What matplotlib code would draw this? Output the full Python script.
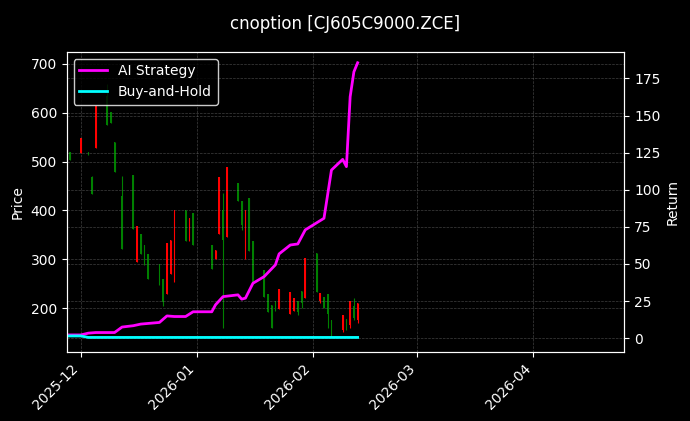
import matplotlib
matplotlib.use('Agg')
import matplotlib.pyplot as plt
import matplotlib.dates as mdates
import numpy as np
import pandas as pd

plt.style.use('dark_background')

# candles (red = up, green = down)
dates = ['2025-11-28', '2025-12-01', '2025-12-03', '2025-12-04', '2025-12-05', '2025-12-08',
         '2025-12-09', '2025-12-10', '2025-12-12', '2025-12-15', '2025-12-16', '2025-12-17',
         '2025-12-18', '2025-12-19', '2025-12-22', '2025-12-23', '2025-12-24', '2025-12-25',
         '2025-12-26', '2025-12-29', '2025-12-30', '2025-12-31', '2026-01-05', '2026-01-06',
         '2026-01-07', '2026-01-08', '2026-01-09', '2026-01-12', '2026-01-13', '2026-01-14',
         '2026-01-15', '2026-01-16', '2026-01-19', '2026-01-20', '2026-01-21', '2026-01-22',
         '2026-01-23', '2026-01-26', '2026-01-27', '2026-01-28', '2026-01-29', '2026-01-30',
         '2026-02-02', '2026-02-03', '2026-02-04', '2026-02-05', '2026-02-06', '2026-02-09',
         '2026-02-10', '2026-02-11', '2026-02-12', '2026-02-13']
opens = [520, 518, 520, 468, 528, 634, 602, 540, 430, 472, 295, 351, 330, 310, 291, 260, 228, 270,
         255, 400, 338, 395, 330, 300, 352, 400, 345, 457, 420, 300, 426, 337, 279, 229, 206, 215,
         198, 188, 195, 215, 235, 220, 312, 215, 222, 228, 175, 156, 178, 165, 205, 175]
closes = [503, 548, 513, 434, 613, 575, 580, 478, 322, 362, 368, 310, 289, 260, 248, 212, 333, 340,
          400, 337, 385, 330, 281, 320, 468, 340, 489, 420, 370, 400, 316, 254, 223, 192, 160, 200,
          240, 233, 220, 192, 210, 302, 233, 230, 200, 188, 150, 185, 160, 215, 180, 210]
highs = [520, 548, 520, 470, 613, 660, 602, 540, 470, 472, 368, 351, 330, 310, 291, 260, 333, 340,
         400, 400, 385, 395, 330, 320, 468, 435, 489, 457, 420, 400, 426, 337, 279, 229, 206, 215,
         240, 233, 220, 215, 235, 302, 312, 230, 222, 228, 175, 185, 178, 215, 220, 210]
lows = [503, 518, 513, 434, 528, 575, 580, 478, 322, 362, 295, 310, 289, 260, 248, 205, 228, 270,
        254, 337, 338, 330, 281, 300, 352, 160, 345, 420, 360, 300, 316, 254, 223, 192, 160, 195,
        198, 188, 195, 185, 200, 220, 233, 210, 200, 160, 140, 150, 155, 160, 175, 170]

# strategy curves
ret_dates = ['2025-11-27', '2025-12-01', '2025-12-03', '2025-12-05', '2025-12-10', '2025-12-12',
             '2025-12-15', '2025-12-17', '2025-12-22', '2025-12-24', '2025-12-26', '2025-12-29',
             '2025-12-31', '2026-01-05', '2026-01-06', '2026-01-08', '2026-01-12', '2026-01-13',
             '2026-01-14', '2026-01-16', '2026-01-19', '2026-01-22', '2026-01-23', '2026-01-26',
             '2026-01-28', '2026-01-30', '2026-02-04', '2026-02-06', '2026-02-09', '2026-02-10',
             '2026-02-11', '2026-02-12', '2026-02-13']
ai_ret = [2.2, 2.2, 3.4, 3.8, 3.8, 7.5, 8.4, 9.5, 10.6, 15, 14.6, 14.6, 17.8, 17.8, 22.5, 28, 29.2,
          26.3, 27, 37, 41.5, 49.4, 56.8, 62.8, 63.5, 73, 80.8, 113.3, 120.5, 115.6, 162.7, 179.5, 185.6]
bh_ret = [1.5, 1.5, 0.5, 0.5, 0.5, 0.5, 0.5, 0.5, 0.5, 0.5, 0.5, 0.5, 0.5, 0.5, 0.5, 0.5, 0.5,
          0.5, 0.5, 0.5, 0.5, 0.5, 0.5, 0.5, 0.5, 0.5, 0.5, 0.5, 0.5, 0.5, 0.5, 0.5, 0.5]

d = pd.to_datetime(dates)
rd = pd.to_datetime(ret_dates)
o = np.array(opens); c = np.array(closes); h = np.array(highs); l = np.array(lows)
cols = np.where(c >= o, 'red', 'green')

fig = plt.figure(figsize=(6.9, 4.21), dpi=100)
fig.patch.set_facecolor('black')
ax = fig.add_axes([0.0967, 0.165, 0.808, 0.712])
ax.set_facecolor('black')

x = mdates.date2num(d)
ax.vlines(x, l, h, colors=cols, linewidth=0.8)
ax.bar(x, np.abs(c - o), bottom=np.minimum(o, c), width=0.45, color=cols, linewidth=0)
ax.set_ylim(111, 725)
ax.set_ylabel('Price')
ax.grid(True, color='gray', linestyle='--', linewidth=0.5, alpha=0.5)

ax2 = ax.twinx()
ax2.plot(rd, ai_ret, color='magenta', linewidth=2, label='AI Strategy')
ax2.plot(rd, bh_ret, color='cyan', linewidth=2, label='Buy-and-Hold')
ax2.set_ylim(-9, 193)
ax2.set_ylabel('Return')
ax2.grid(True, color='gray', linestyle='--', linewidth=0.5, alpha=0.5)
ax2.legend(loc='upper left', facecolor='black', edgecolor='white')

ax.set_xlim(mdates.date2num(pd.Timestamp('2025-11-27 05:00')),
            mdates.date2num(pd.Timestamp('2026-04-25 07:00')))
ax.xaxis.set_major_locator(mdates.MonthLocator())
ax.xaxis.set_major_formatter(mdates.DateFormatter('%Y-%m'))
plt.setp(ax.get_xticklabels(), rotation=45, ha='right')

fig.suptitle('cnoption [CJ605C9000.ZCE]', y=0.965, fontsize=12)
fig.savefig('out.png', dpi=100, facecolor='black')
